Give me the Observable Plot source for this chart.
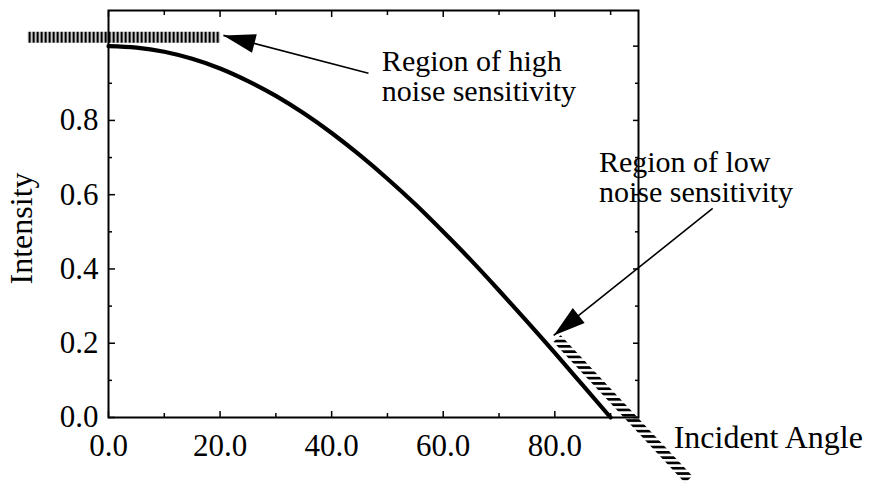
<!DOCTYPE html>
<html>
<head>
<meta charset="utf-8">
<script src="https://cdn.jsdelivr.net/npm/d3@7"></script>
<script src="https://cdn.jsdelivr.net/npm/@observablehq/plot@0.6"></script>
<style>
  html, body { margin: 0; padding: 0; background: #fff; }
  #chart svg { display: block; }
</style>
</head>
<body>
<div id="chart"></div>
<script>
// Curve: incident angle (deg) vs intensity
const angles    = [0, 5, 10, 15, 20, 25, 30, 35, 40, 45, 50, 55, 60, 65, 70, 75, 80, 85, 90];
const intensity = [1.00, 0.996, 0.985, 0.966, 0.94, 0.906, 0.866, 0.819, 0.766, 0.707, 0.643, 0.574, 0.50, 0.423, 0.342, 0.259, 0.174, 0.087, 0.0];

// Tick values and labels
const xMajor = [0, 20, 40, 60, 80];
const xMinor = [10, 30, 50, 70, 90];
const xLabels = ["0.0", "20.0", "40.0", "60.0", "80.0"];
const yMajor = [0, 0.2, 0.4, 0.6, 0.8, 1.0];
const yMinor = [0.1, 0.3, 0.5, 0.7, 0.9];
const yLabeled = [0, 0.2, 0.4, 0.6, 0.8];
const yLabels = ["0.0", "0.2", "0.4", "0.6", "0.8"];

// Hatched regions (data coordinates)
const highBandX = [-14.5, 20];
const highBandY = [1.024, 1.024];
const lowBandX = [80.4, 104.0];
const lowBandY = [0.2125, -0.167];

// Annotation arrows: start -> tip
const arrowX1 = [46.6, 108.3];
const arrowY1 = [0.927, 0.563];
const arrowX2 = [20.6, 79.8];
const arrowY2 = [1.029, 0.221];

// Annotation texts
const noteText = ["Region of high\nnoise sensitivity", "Region of low\nnoise sensitivity"];
const noteX = [49.0, 87.9];
const noteY = [0.851, 0.579];

const xTitle = "Incident Angle";
const yTitle = "Intensity";

const curve = angles.map((a, i) => ({a, v: intensity[i]}));
const arrows = arrowX1.map((d, i) => ({x1: d, y1: arrowY1[i], x2: arrowX2[i], y2: arrowY2[i]}));
const notes = noteText.map((t, i) => ({t, x: noteX[i], y: noteY[i]}));
const highBand = highBandX.map((d, i) => ({x: d, y: highBandY[i]}));
const lowBand = lowBandX.map((d, i) => ({x: d, y: lowBandY[i]}));

const fmtX = d => xLabels[xMajor.indexOf(d)];
const fmtY = d => yLabels[yLabeled.findIndex(v => Math.abs(v - d) < 1e-9)];
const blank = () => "";

const svg = Plot.plot({
  width: 869,
  height: 484,
  marginLeft: 108,
  marginRight: 231,
  marginTop: 10,
  marginBottom: 67,
  style: {fontFamily: "'Liberation Serif', 'Times New Roman', serif", fontSize: "31px", background: "#fff", color: "#000"},
  x: {domain: [0, 95], axis: null},
  y: {domain: [0, 1.096], axis: null},
  marks: [
    // ticks (inward)
    Plot.axisX(xMajor, {anchor: "bottom", tickSize: -6, tickFormat: blank, label: null, strokeWidth: 1.5}),
    Plot.axisX(xMinor, {anchor: "bottom", tickSize: -4, tickFormat: blank, label: null, strokeWidth: 1.5}),
    Plot.axisX(xMajor, {anchor: "top", tickSize: -6, tickFormat: blank, label: null, strokeWidth: 1.5}),
    Plot.axisX(xMinor, {anchor: "top", tickSize: -4, tickFormat: blank, label: null, strokeWidth: 1.5}),
    Plot.axisY(yMajor, {anchor: "left", tickSize: -7, tickFormat: blank, label: null, strokeWidth: 1.5}),
    Plot.axisY(yMinor, {anchor: "left", tickSize: -4, tickFormat: blank, label: null, strokeWidth: 1.5}),
    Plot.axisY(yMajor, {anchor: "right", tickSize: -6, tickFormat: blank, label: null, strokeWidth: 1.5}),
    Plot.axisY(yMinor, {anchor: "right", tickSize: -4, tickFormat: blank, label: null, strokeWidth: 1.5}),
    // tick labels
    Plot.axisX(xMajor, {anchor: "bottom", tickSize: 0, tickPadding: 16, tickFormat: fmtX, label: null, fontSize: 31}),
    Plot.axisY(yLabeled, {anchor: "left", tickSize: 0, tickPadding: 10, tickFormat: fmtY, label: null, fontSize: 31}),
    Plot.frame({stroke: "#000", strokeWidth: 2}),
    // hatched regions
    Plot.line(highBand, {x: "x", y: "y", stroke: "url(#hatchV)", strokeWidth: 11, strokeLinecap: "butt"}),
    Plot.line(lowBand, {x: "x", y: "y", stroke: "url(#hatchH)", strokeWidth: 10, strokeLinecap: "butt"}),
    // main curve
    Plot.line(curve, {x: "a", y: "v", curve: "natural", stroke: "#000", strokeWidth: 4.2}),
    // arrows
    Plot.link(arrows, {x1: "x1", y1: "y1", x2: "x2", y2: "y2", stroke: "#000", strokeWidth: 1.6, className: "ann-arrow"}),
    // notes
    Plot.text(notes, {x: "x", y: "y", text: "t", textAnchor: "start", lineAnchor: "bottom", lineHeight: 1.0, fontSize: 30, fill: "#000"}),
    Plot.text([xTitle], {x: 101.3, y: -0.081, text: d => d, textAnchor: "start", lineAnchor: "bottom", fontSize: 32, fill: "#000"}),
    Plot.text([yTitle], {x: -15.6, y: 0.509, text: d => d, rotate: -90, textAnchor: "middle", lineAnchor: "middle", fontSize: 32, fill: "#000"})
  ]
});

const s = d3.select(svg);
const defs = s.insert("defs", ":first-child");
const pv = defs.append("pattern").attr("id", "hatchV").attr("patternUnits", "userSpaceOnUse").attr("width", 4).attr("height", 4);
pv.append("rect").attr("x", 0).attr("y", 0).attr("width", 2.4).attr("height", 4).attr("fill", "#000");
const ph = defs.append("pattern").attr("id", "hatchH").attr("patternUnits", "userSpaceOnUse").attr("width", 4).attr("height", 5.3);
ph.append("rect").attr("x", 0).attr("y", 0).attr("width", 4).attr("height", 2.7).attr("fill", "#000");
const mk = defs.append("marker").attr("id", "arrowFill").attr("markerUnits", "userSpaceOnUse")
  .attr("viewBox", "-34 -12 36 24").attr("refX", 0).attr("refY", 0)
  .attr("markerWidth", 36).attr("markerHeight", 24).attr("orient", "auto");
mk.append("path").attr("d", "M0,0L-32,-9.5L-32,9.5Z").attr("fill", "#000");
s.selectAll(".ann-arrow path").attr("marker-end", "url(#arrowFill)");

document.getElementById("chart").appendChild(svg);
</script>
</body>
</html>
